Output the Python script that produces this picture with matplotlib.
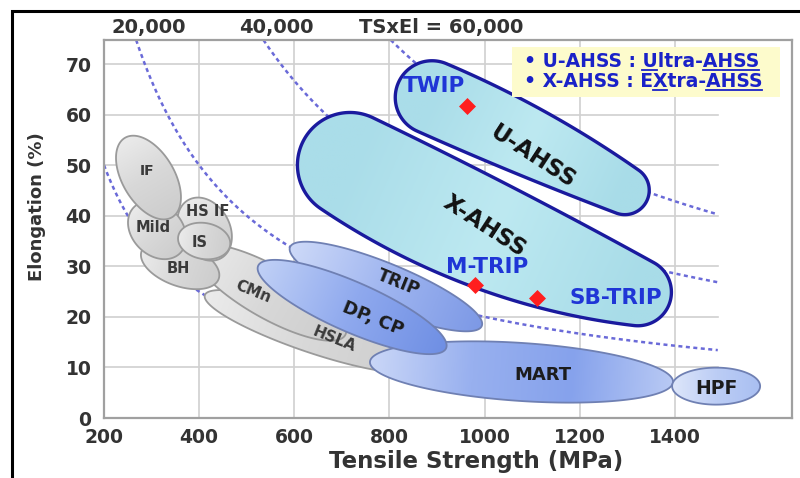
import numpy as np
import matplotlib
matplotlib.use("Agg")
import matplotlib.pyplot as plt
from matplotlib.patches import Polygon, Rectangle
from matplotlib.colors import LinearSegmentedColormap
from matplotlib.lines import Line2D
from matplotlib.font_manager import FontProperties
import matplotlib.transforms as mtransforms

# ---------------- data ----------------
x_ticks = [200, 400, 600, 800, 1000, 1200, 1400]
y_ticks = [0, 10, 20, 30, 40, 50, 60, 70]

# iso TS x El curves
iso_products = [10000, 20000, 40000, 60000]
iso_ts_end = [450, 1490, 1490, 1490]
iso_labels = ["20,000", "40,000", "TSxEl = 60,000"]

# conventional steels (ellipse tips: TS, El)
conv_names = ["HSLA", "CMn", "BH", "Mild", "HS IF", "IS", "IF"]
conv_ts1 = [412, 391, 279, 263, 377, 356, 244]
conv_el1 = [24.3, 33.2, 33.0, 41.7, 43.1, 35.9, 55.4]
conv_ts2 = [864, 707, 441, 360, 446, 465, 343]
conv_el2 = [9.9, 16.4, 27.5, 32.6, 31.6, 34.1, 39.7]
conv_lab_ts = [683, 513, 356, 303, 418, 402, 290]
conv_lab_el = [15.6, 25.0, 29.6, 37.6, 40.8, 34.7, 48.8]

# first generation AHSS
ahss_names = ["TRIP", "MART", "DP, CP", "HPF"]
ahss_ts1 = [591, 759, 524, 1394]
ahss_el1 = [33.8, 11.1, 30.1, 6.3]
ahss_ts2 = [994, 1396, 919, 1579]
ahss_el2 = [18.2, 7.1, 13.8, 6.3]
ahss_lab_ts = [818, 1123, 765, 1488]
ahss_lab_el = [26.8, 8.6, 19.7, 5.9]

# new AHSS bands (centre-line points TS, El)
band_names = ["X-AHSS", "U-AHSS"]
band_ts = [[717, 875, 1116, 1322], [889, 1011, 1158, 1295]]
band_el = [[50.0, 42.1, 31.8, 24.9], [63.3, 58.5, 51.4, 45.1]]
band_lab_ts = [999, 1102]
band_lab_el = [38.0, 51.6]

# grades (red diamonds)
grade_names = ["TWIP", "M-TRIP", "SB-TRIP"]
grade_ts = [963, 979, 1110]
grade_el = [61.6, 26.3, 23.8]
grade_lab_ts = [893, 1006, 1275]
grade_lab_el = [65.6, 29.8, 23.7]

legend_lines = ["\u2022 U-AHSS : Ultra-AHSS", "\u2022 X-AHSS : EXtra-AHSS"]
legend_underlines = [[(11, 12), (17, 21)], [(12, 13), (17, 21)]]

# ---------------- figure ----------------
W, H = 800, 478
fig = plt.figure(figsize=(W / 100, H / 100), dpi=100)
fig.patch.set_facecolor("white")
ax = fig.add_axes([104 / W, 1 - 418 / H, (792 - 104) / W, (418 - 40) / H])
ax.set_xlim(200, 1646)
ax.set_ylim(0, 74.75)
ax.set_autoscale_on(False)

TXT = "#333333"
for s in ax.spines.values():
    s.set_color("#a0a0a0")
    s.set_linewidth(1.6)
ax.set_xticks(x_ticks)
ax.set_yticks(y_ticks)
ax.tick_params(length=0, labelsize=13.5, labelcolor=TXT)
ax.tick_params(axis="x", pad=7)
ax.tick_params(axis="y", pad=9)
for lab in ax.get_xticklabels() + ax.get_yticklabels():
    lab.set_fontweight("bold")
ax.set_xlabel("Tensile Strength (MPa)", fontsize=16.5, fontweight="bold", color=TXT)
ax.set_ylabel("Elongation (%)", fontsize=13, fontweight="bold", color=TXT)
ax.xaxis.set_label_coords((476 - 104) / 688, -0.085)
ax.yaxis.set_label_coords(-0.084, 0.56)

# grid
GRID = "#d0d0d0"
for xv in x_ticks[1:]:
    ax.axvline(xv, color=GRID, lw=1.2, zorder=0)
for yv in y_ticks[1:]:
    ax.plot([200, 1490], [yv, yv], color=GRID, lw=1.2, zorder=0)

# iso curves
for prod, tend in zip(iso_products, iso_ts_end):
    ts = np.linspace(max(200, prod / 74.75), tend, 300)
    ax.plot(ts, prod / ts, color="#6a6ad8", lw=1.8, ls=(0, (1.6, 1.4)), zorder=1)

tb = mtransforms.blended_transform_factory(ax.transData, ax.transAxes)
for lab, tsx in zip(iso_labels, [295, 563, 908]):
    ax.text(tsx, 1.034, lab, transform=tb, ha="center", va="center",
            fontsize=14, fontweight="bold", color=TXT)


def to_disp(x, y):
    return ax.transData.transform((x, y))


def ellipse_verts(x1, y1, x2, y2, w, n=240):
    p1, p2 = to_disp(x1, y1), to_disp(x2, y2)
    c = (p1 + p2) / 2
    d = p2 - p1
    L = np.hypot(*d)
    u = d / L
    v = np.array([-u[1], u[0]])
    t = np.linspace(0, 2 * np.pi, n)
    pts = c + np.outer(np.cos(t) * L / 2, u) + np.outer(np.sin(t) * w / 2, v)
    return ax.transData.inverted().transform(pts)


def tube_verts(xs, ys, hws, n=240):
    """Envelope of circles swept along a smooth centre line (display space)."""
    P = ax.transData.transform(np.column_stack([xs, ys]))
    seg = np.hypot(*np.diff(P, axis=0).T)
    s = np.concatenate([[0], np.cumsum(seg)])
    s = s / s[-1]
    cx = np.polyfit(s, P[:, 0], 2)
    cy = np.polyfit(s, P[:, 1], 2)
    ch = np.polyfit(s, hws, 2)
    t = np.linspace(0, 1, n)
    C = np.column_stack([np.polyval(cx, t), np.polyval(cy, t)])
    D = np.column_stack([np.polyval(np.polyder(cx), t), np.polyval(np.polyder(cy), t)])
    speed = np.hypot(*D.T)
    U = D / speed[:, None]
    V = np.column_stack([-U[:, 1], U[:, 0]])
    r = np.polyval(ch, t)
    rp = np.clip(np.polyval(np.polyder(ch), t) / speed, -0.95, 0.95)
    q = np.sqrt(1 - rp ** 2)
    left = C + r[:, None] * (-rp[:, None] * U + q[:, None] * V)
    right = C + r[:, None] * (-rp[:, None] * U - q[:, None] * V)
    th1 = np.arctan2(q[-1], -rp[-1])
    ph = np.linspace(th1, -th1, 90)
    cap_end = C[-1] + r[-1] * (np.outer(np.cos(ph), U[-1]) + np.outer(np.sin(ph), V[-1]))
    th0 = np.arctan2(q[0], -rp[0])
    ph = np.linspace(2 * np.pi - th0, th0, 90)
    cap_start = C[0] + r[0] * (np.outer(np.cos(ph), U[0]) + np.outer(np.sin(ph), V[0]))
    pts = np.vstack([left, cap_end, right[::-1], cap_start])
    return ax.transData.inverted().transform(pts)


def grad_fill(verts, colors, p1, p2, z, ec, lw):
    poly = Polygon(verts, closed=True, fc="none", ec=ec, lw=lw, zorder=z + 0.01,
                   joinstyle="round")
    ax.add_patch(poly)
    xmin, ymin = verts.min(0)
    xmax, ymax = verts.max(0)
    nx = ny = 80
    X, Y = np.meshgrid(np.linspace(xmin, xmax, nx), np.linspace(ymin, ymax, ny))
    D = ax.transData.transform(np.column_stack([X.ravel(), Y.ravel()]))
    P1, P2 = to_disp(*p1), to_disp(*p2)
    d = P2 - P1
    tt = np.clip(((D - P1) @ d) / (d @ d), 0, 1).reshape(ny, nx)
    cmap = LinearSegmentedColormap.from_list("g", colors)
    im = ax.imshow(tt, extent=(xmin, xmax, ymin, ymax), origin="lower", cmap=cmap,
                   vmin=0, vmax=1, aspect="auto", zorder=z, interpolation="bilinear")
    im.set_clip_path(poly)


# conventional steels
conv_w = [42, 52, 42, 50, 50, 36, 52]
conv_rot = [-22, -22, 0, 0, 0, 0, 0]
conv_fs = [11, 11, 10.5, 10.5, 10.5, 10.5, 10]
conv_z = [2, 2.2, 2.4, 2.8, 2.6, 3.0, 3.2]
for i, name in enumerate(conv_names):
    v = ellipse_verts(conv_ts1[i], conv_el1[i], conv_ts2[i], conv_el2[i], conv_w[i])
    grad_fill(v, ["#ebebeb", "#d8d8d8", "#cdcdcd"], (conv_ts1[i], conv_el1[i]),
              (conv_ts2[i], conv_el2[i]), conv_z[i], "#9a9a9a", 1.3)
    ax.text(conv_lab_ts[i], conv_lab_el[i], name, ha="center", va="center",
            rotation=conv_rot[i], fontsize=conv_fs[i], fontweight="bold",
            color="#3a3a3a", zorder=6)

# first generation AHSS
ahss_w = [46, 58, 50, 37]
ahss_cols = [["#cdd9f8", "#9fb5f0", "#7d99e6"],
             ["#c9d6f7", "#98b0ef", "#86a2ec", "#b8c9f4"],
             ["#c0d0f6", "#8fa9ee", "#6f8fe4"],
             ["#dde6fa", "#bccdf5", "#a9bff2"]]
ahss_z = [3.4, 3.6, 3.8, 3.7]
ahss_rot = [-22, 0, -22, 0]
ahss_fs = [12.5, 13, 13, 13.5]
for i, name in enumerate(ahss_names):
    v = ellipse_verts(ahss_ts1[i], ahss_el1[i], ahss_ts2[i], ahss_el2[i], ahss_w[i])
    grad_fill(v, ahss_cols[i], (ahss_ts1[i], ahss_el1[i]), (ahss_ts2[i], ahss_el2[i]),
              ahss_z[i], "#6f80b3", 1.3)
    ax.text(ahss_lab_ts[i], ahss_lab_el[i], name, ha="center", va="center",
            rotation=ahss_rot[i], fontsize=ahss_fs[i], fontweight="bold",
            color="#1c1c1c", zorder=6)

# new AHSS bands
band_hw = [[52, 57, 48, 34], [36, 38, 30, 25]]
for i, name in enumerate(band_names):
    v = tube_verts(band_ts[i], band_el[i], band_hw[i])
    grad_fill(v, ["#aadde9", "#bde9f1", "#a8dce8"], (band_ts[i][0], band_el[i][0]),
              (band_ts[i][-1], band_el[i][-1]), 4 + i * 0.2, "#1a1a9e", 2.4)
    ax.text(band_lab_ts[i], band_lab_el[i], name, ha="center", va="center",
            rotation=-33, fontsize=16.5, fontweight="bold", color="#111111", zorder=6)

ax.scatter(grade_ts, grade_el, marker="D", s=75, color="#ff1e1e", zorder=7, lw=0)
for name, tx, ty in zip(grade_names, grade_lab_ts, grade_lab_el):
    ax.text(tx, ty, name, ha="center", va="center", fontsize=15.5,
            fontweight="bold", color="#1f35d6", zorder=7)

# legend box
ax.add_patch(Rectangle((0.593, 0.849), 0.389, 0.132, transform=ax.transAxes,
                       fc="#fdfbcc", ec="none", zorder=8))
fig.canvas.draw()
renderer = fig.canvas.get_renderer()
fp = FontProperties(family="DejaVu Sans", weight="bold", size=13.5)
for line, yv, unders in zip(legend_lines, [0.942, 0.889], legend_underlines):
    t = ax.text(0.610, yv, line, transform=ax.transAxes, ha="left", va="center",
                fontproperties=fp, color="#1a22c8", zorder=9)
    bb = t.get_window_extent(renderer)
    for a, b in unders:
        wa = renderer.get_text_width_height_descent(line[:a], fp, ismath=False)[0]
        wb = renderer.get_text_width_height_descent(line[:b], fp, ismath=False)[0]
        yl = bb.y0 + 1.5
        fig.add_artist(Line2D([(bb.x0 + wa) / W, (bb.x0 + wb) / W], [yl / H, yl / H],
                              transform=fig.transFigure, color="#1a22c8", lw=1.3,
                              zorder=10))

# outer black frame
fig.add_artist(Rectangle((12 / W, -0.02), 1.0, 1 - 11 / H + 0.02,
                         transform=fig.transFigure, fc="none", ec="black", lw=2.2))

fig.savefig("out.png", dpi=100)
